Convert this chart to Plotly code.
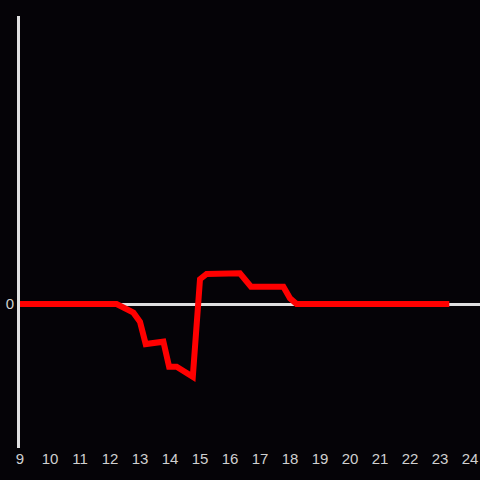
import plotly.graph_objects as go

hours = [9.0, 12.22, 12.78, 13.0, 13.19, 13.78, 13.97, 14.22, 14.76, 15.0, 15.22,
         16.33, 16.7, 17.78, 18.0, 18.22, 23.31]
values = [0, 0, -3.6, -7.4, -16.7, -15.7, -26.1, -26.1, -30.3, 10.3, 12.5,
          12.8, 7.2, 7.2, 2.4, 0, 0]
x_ticks = list(range(9, 25))

fig = go.Figure()
fig.add_trace(go.Scatter(x=hours, y=values, mode="lines",
                         line=dict(color="#ff0000", width=6)))

fig.update_layout(
    width=480, height=480,
    margin=dict(l=20, r=0, t=16, b=32),
    paper_bgcolor="#050307", plot_bgcolor="#050307",
    showlegend=False,
    font=dict(family="Liberation Sans, Arial, sans-serif", size=15, color="#d0d0d0"),
    xaxis=dict(range=[9, 9 + 460 / 30], tickmode="array", tickvals=x_ticks,
               ticktext=[str(t) for t in x_ticks], showgrid=False, zeroline=False,
               showline=False, ticks=""),
    yaxis=dict(range=[-60, 120], tickmode="array", tickvals=[0], ticktext=["0"],
               showgrid=False, zeroline=True, zerolinecolor="#e0e0e0", zerolinewidth=3,
               showline=True, linecolor="#e0e0e0", linewidth=3, ticks=""),
)
fig.write_html("out.html", config={"displayModeBar": False},
               post_script="document.body.style.margin='0';document.body.style.background='#050307';")
